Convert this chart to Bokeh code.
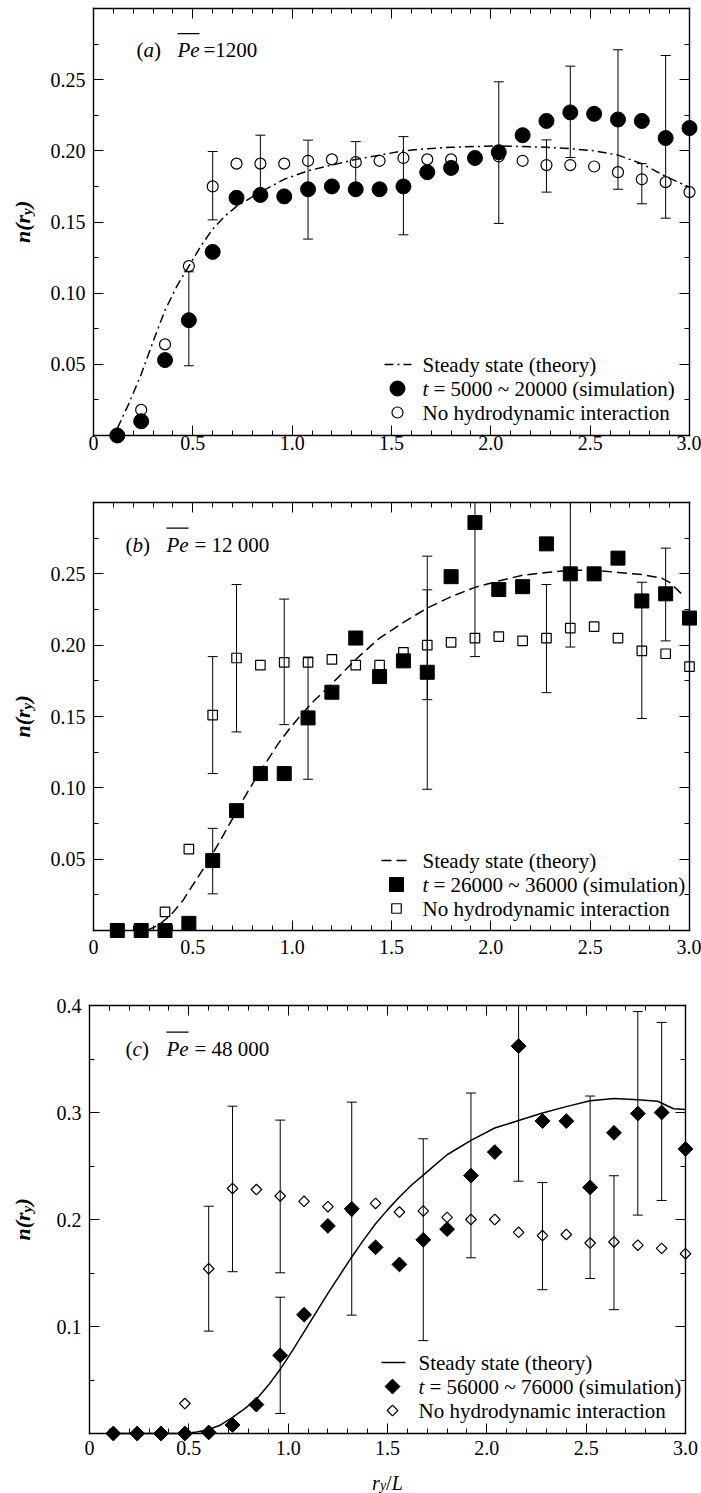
import math
from bokeh.plotting import figure
from bokeh.models import Range1d, LinearAxis, FixedTicker, PrintfTickFormatter, Label, BoxAnnotation
from bokeh.layouts import column
from bokeh.embed import file_html
from bokeh.resources import INLINE

SERIF = "Liberation Serif"

# ---------------- data ----------------
r_y = [0.12, 0.24, 0.36, 0.48, 0.60, 0.72, 0.84, 0.96, 1.08, 1.20, 1.32, 1.44, 1.56,
       1.68, 1.80, 1.92, 2.04, 2.16, 2.28, 2.40, 2.52, 2.64, 2.76, 2.88, 3.00]

# panel (a)  Pe = 1200
a_sim = [0.000, 0.010, 0.053, 0.081, 0.129, 0.167, 0.169, 0.168, 0.173, 0.175, 0.173, 0.173, 0.175,
         0.185, 0.188, 0.195, 0.199, 0.211, 0.221, 0.227, 0.226, 0.222, 0.221, 0.209, 0.216]
a_nohi = [0.000, 0.018, 0.064, 0.119, 0.175, 0.191, 0.191, 0.191, 0.193, 0.194, 0.192, 0.193, 0.195,
          0.194, 0.194, 0.195, 0.196, 0.193, 0.190, 0.190, 0.189, 0.185, 0.180, 0.178, 0.171]
a_theory_x = [0.12, 0.18, 0.24, 0.30, 0.36, 0.42, 0.48, 0.54, 0.60, 0.66, 0.72, 0.84, 0.96, 1.08, 1.20,
              1.32, 1.44, 1.56, 1.68, 1.80, 1.92, 2.04, 2.16, 2.28, 2.40, 2.52, 2.64, 2.76, 2.88, 3.00]
a_theory_y = [0.005, 0.023, 0.043, 0.066, 0.088, 0.105, 0.119, 0.133, 0.145, 0.154, 0.161, 0.171, 0.180,
              0.186, 0.190, 0.194, 0.197, 0.200, 0.2015, 0.2025, 0.203, 0.2035, 0.203, 0.2025, 0.2015,
              0.200, 0.197, 0.191, 0.182, 0.1745]
a_err_x = [0.48, 0.60, 0.84, 1.08, 1.32, 1.56, 2.04, 2.28, 2.40, 2.64, 2.76, 2.88]
a_err_hi = [0.115, 0.1995, 0.211, 0.2075, 0.2065, 0.210, 0.2485, 0.2077, 0.2595, 0.271, 0.191, 0.267]
a_err_lo = [0.049, 0.1515, 0.171, 0.138, 0.1767, 0.141, 0.149, 0.171, 0.1953, 0.173, 0.1628, 0.1527]

# panel (b)  Pe = 12 000
b_sim = [0.000, 0.000, 0.000, 0.005, 0.049, 0.084, 0.110, 0.110, 0.149, 0.167, 0.205, 0.178, 0.189,
         0.181, 0.248, 0.286, 0.239, 0.241, 0.271, 0.250, 0.250, 0.261, 0.231, 0.236, 0.219]
b_nohi = [0.000, 0.000, 0.013, 0.057, 0.151, 0.191, 0.186, 0.188, 0.188, 0.190, 0.186, 0.186, 0.195,
          0.200, 0.202, 0.205, 0.206, 0.203, 0.205, 0.212, 0.213, 0.205, 0.196, 0.194, 0.185]
b_theory_x = [0.27, 0.33, 0.39, 0.45, 0.51, 0.57, 0.63, 0.69, 0.75, 0.81, 0.87, 0.93, 0.99, 1.05, 1.11,
              1.20, 1.32, 1.44, 1.56, 1.68, 1.80, 1.92, 2.04, 2.16, 2.28, 2.40, 2.52, 2.64, 2.76,
              2.86, 2.90, 2.96]
b_theory_y = [0.000, 0.004, 0.011, 0.021, 0.034, 0.047, 0.061, 0.076, 0.091, 0.105, 0.118, 0.131, 0.142,
              0.152, 0.161, 0.173, 0.190, 0.205, 0.216, 0.226, 0.234, 0.2405, 0.245, 0.249, 0.251,
              0.2525, 0.2525, 0.251, 0.2495, 0.247, 0.244, 0.236]
b_err_x = [0.60, 0.60, 0.72, 0.96, 1.08, 1.68, 1.68, 1.92, 2.28, 2.40, 2.76, 2.88]
b_err_hi = [0.0716, 0.192, 0.2425, 0.2323, 0.1917, 0.2624, 0.2388, 0.381, 0.2425, 0.320, 0.2441, 0.268]
b_err_lo = [0.0257, 0.110, 0.1392, 0.1443, 0.106, 0.099, 0.1618, 0.192, 0.1667, 0.1987, 0.1486, 0.203]

# panel (c)  Pe = 48 000
c_sim = [0.000, 0.000, 0.000, 0.000, 0.001, 0.008, 0.027, 0.073, 0.111, 0.194, 0.210, 0.174, 0.158,
         0.181, 0.191, 0.241, 0.263, 0.362, 0.292, 0.292, 0.230, 0.281, 0.299, 0.300, 0.266]
c_nohi = [0.000, 0.000, 0.000, 0.028, 0.154, 0.229, 0.228, 0.222, 0.217, 0.212, 0.208, 0.215, 0.207,
          0.208, 0.202, 0.200, 0.200, 0.188, 0.185, 0.186, 0.178, 0.179, 0.176, 0.173, 0.168]
c_theory_x = [0.12, 0.48, 0.54, 0.60, 0.66, 0.72, 0.78, 0.84, 0.90, 0.96, 1.02, 1.08, 1.14, 1.20, 1.26,
              1.32, 1.38, 1.44, 1.50, 1.56, 1.62, 1.68, 1.74, 1.80, 1.92, 2.04, 2.16, 2.28, 2.40,
              2.52, 2.64, 2.76, 2.86, 2.90, 2.94, 3.00]
c_theory_y = [0.000, 0.000, 0.0015, 0.0038, 0.008, 0.015, 0.023, 0.032, 0.045, 0.060, 0.077, 0.095,
              0.113, 0.131, 0.148, 0.165, 0.181, 0.196, 0.209, 0.221, 0.232, 0.2415, 0.251, 0.2605,
              0.274, 0.2855, 0.2925, 0.2995, 0.3055, 0.311, 0.313, 0.312, 0.3105, 0.307, 0.3035, 0.3027]
c_err_x = [0.60, 0.72, 0.96, 0.96, 1.32, 1.68, 1.92, 2.16, 2.28, 2.52, 2.64, 2.76, 2.88]
c_err_hi = [0.2124, 0.3059, 0.1274, 0.2929, 0.3097, 0.2754, 0.3182, 0.490, 0.2345, 0.3154, 0.2409, 0.3943, 0.3842]
c_err_lo = [0.0957, 0.1512, 0.0187, 0.1502, 0.1106, 0.0868, 0.1642, 0.2358, 0.1344, 0.1449, 0.1157, 0.2041, 0.2178]

# ticks
x_ticks = [0.0, 0.5, 1.0, 1.5, 2.0, 2.5, 3.0]
x_tick_labels = ["0", "0.5", "1.0", "1.5", "2.0", "2.5", "3.0"]
x_minor = [0.1, 0.2, 0.3, 0.4, 0.6, 0.7, 0.8, 0.9, 1.1, 1.2, 1.3, 1.4, 1.6, 1.7, 1.8, 1.9,
           2.1, 2.2, 2.3, 2.4, 2.6, 2.7, 2.8, 2.9]
ab_y_ticks = [0.05, 0.10, 0.15, 0.20, 0.25]
ab_y_tick_labels = ["0.05", "0.10", "0.15", "0.20", "0.25"]
ab_y_minor = [0.025, 0.075, 0.125, 0.175, 0.225, 0.275]
c_y_ticks = [0.1, 0.2, 0.3, 0.4]
c_y_tick_labels = ["0.1", "0.2", "0.3", "0.4"]
c_y_minor = [0.05, 0.15, 0.25, 0.35]

# ---------------- layout constants (page pixels) ----------------
PAGE_W = 701
AXW = 596      # width of the axis box (0 .. 3.0)
XMAX = 3.0


def make_panel(cfg):
    left, ft, at, ab, fb, ymax = (cfg["left"], cfg["fig_top"], cfg["axis_top"],
                                  cfg["axis_bottom"], cfg["fig_bottom"], cfg["ymax"])
    H = ab - at
    fig_h = fb - ft
    # the frame covers the whole figure; axes are placed at fixed data locations
    p = figure(frame_width=PAGE_W, frame_height=fig_h,
               x_range=Range1d(-left / AXW * XMAX, (PAGE_W - left) / AXW * XMAX),
               y_range=Range1d((ab - fb) / H * ymax, (ab - ft) / H * ymax),
               min_border_left=0, min_border_right=0, min_border_top=0, min_border_bottom=0,
               x_axis_location=None, y_axis_location=None,
               toolbar_location=None, output_backend="svg",
               outline_line_color=None, background_fill_color="white",
               border_fill_color="white")
    p.grid.visible = False

    def dx(px):
        return (px - left) / AXW * XMAX

    def dy(py):
        return (ab - py) / H * ymax

    def lab(px, py, text, size=20, style="normal", align="left", baseline="alphabetic", angle=0.0):
        p.add_layout(Label(x=px, y=fb - py, x_units="screen", y_units="screen",
                           text=text, text_font=SERIF, text_font_size=f"{size}px",
                           text_font_style=style, text_align=align, text_baseline=baseline,
                           angle=angle, text_color="black"))

    common = dict(axis_line_width=1.4, axis_line_color="black", axis_line_cap="square",
                  major_tick_line_color="black", minor_tick_line_color="black",
                  major_tick_line_width=1, minor_tick_line_width=1,
                  major_label_text_font=SERIF, major_label_text_font_size="20px",
                  major_label_text_color="black",
                  major_tick_in=10, major_tick_out=0, minor_tick_in=5, minor_tick_out=0)
    xt = FixedTicker(ticks=x_ticks, minor_ticks=x_minor)
    yt = FixedTicker(ticks=cfg["yticks"], minor_ticks=cfg["yminor"])

    bottom = LinearAxis(ticker=xt, formatter=PrintfTickFormatter(format="%.1f"),
                        major_label_overrides=dict(zip(x_ticks, x_tick_labels)),
                        fixed_location=0, bounds=(0, XMAX),
                        major_label_standoff=cfg["xstand"], **common)
    p.add_layout(bottom, "below")
    top = LinearAxis(ticker=xt, major_label_overrides={t: "" for t in x_ticks},
                     fixed_location=ymax, bounds=(0, XMAX), major_label_standoff=0, **common)
    p.add_layout(top, "above")
    lefta = LinearAxis(ticker=yt, formatter=PrintfTickFormatter(format=cfg["yfmt"]),
                       major_label_overrides=dict(zip(cfg["yticks"], cfg["ylabels"])),
                       fixed_location=0, bounds=(0, ymax),
                       major_label_standoff=8, **common)
    p.add_layout(lefta, "left")
    right = LinearAxis(ticker=yt, major_label_overrides={t: "" for t in cfg["yticks"]},
                       fixed_location=XMAX, bounds=(0, ymax), major_label_standoff=0, **common)
    p.add_layout(right, "right")

    # theory curve
    p.line(cfg["tx"], cfg["ty"], line_color="black", line_width=1.5, line_dash=cfg["dash"])

    # error bars (cut at the top of the axis box, as in the original)
    ex, lo, hi = cfg["ex"], cfg["elo"], cfg["ehi"]
    hi_draw = [min(h, ymax) for h in hi]
    p.segment(x0=ex, y0=lo, x1=ex, y1=hi_draw, line_color="black", line_width=1)
    cap_x = [x for x, h in zip(ex, hi) if h <= ymax]
    cap_y = [h for h in hi if h <= ymax]
    p.scatter(cap_x, cap_y, marker="dash", size=10, line_color="black", line_width=1)
    p.scatter(ex, lo, marker="dash", size=10, line_color="black", line_width=1)

    # markers
    mk = cfg["marker"]
    p.scatter(r_y, cfg["nohi"], marker=mk, size=cfg["open_size"], angle=cfg["angle"],
              fill_color=None, line_color="black", line_width=1.2)
    p.scatter(r_y, cfg["sim"], marker=mk, size=cfg["fill_size"], angle=cfg["angle"],
              fill_color="black", line_color="black")

    # legend (samples + text)
    lg = cfg["legend"]
    rows = lg["rows"]
    p.line([dx(lg["line"][0]), dx(lg["line"][1])], [dy(rows[0]), dy(rows[0])],
           line_color="black", line_width=1.5, line_dash=cfg["dash"])
    p.scatter([dx(lg["mx"])], [dy(rows[1])], marker=mk, size=cfg["fill_size"], angle=cfg["angle"],
              fill_color="black", line_color="black")
    p.scatter([dx(lg["mx"])], [dy(rows[2])], marker=mk, size=cfg["open_size"], angle=cfg["angle"],
              fill_color=None, line_color="black", line_width=1.2)
    tx0 = lg["tx"]
    lab(tx0, rows[0], "Steady state (theory)", size=21, baseline="middle")
    lab(tx0, rows[1], "t", size=21, style="italic", baseline="middle")
    lab(tx0 + 11, rows[1], cfg["sim_label"], size=21, baseline="middle")
    lab(tx0, rows[2], "No hydrodynamic interaction", size=21, baseline="middle")

    # panel tag  (x)  Pe = ...
    tg = cfg["tag"]
    for text, px, style in tg["pieces"]:
        lab(px, tg["base"], text, size=21, style=style)
    ox0, ox1, oy = tg["over"]
    p.add_layout(BoxAnnotation(left=ox0, right=ox1,
                               top=fb - oy, bottom=fb - oy - 1.3,
                               left_units="screen", right_units="screen",
                               top_units="screen", bottom_units="screen",
                               fill_color="black", fill_alpha=1.0, line_color=None))

    # y axis title n(r_y), rotated
    mid = (at + ab) / 2
    ys = mid + 21
    lab(22, ys, "n(r", size=22, style="bold italic", angle=math.pi / 2)
    lab(26, ys - 28, "y", size=15, style="bold italic", angle=math.pi / 2)
    lab(22, ys - 35, ")", size=22, style="bold italic", angle=math.pi / 2)

    if cfg.get("xtitle"):
        cx = left + AXW / 2 - 15.4
        lab(cx, 1482, "r", style="italic")
        lab(cx + 7.8, 1485, "y", size=14, style="italic")
        lab(cx + 14.0, 1482, "/")
        lab(cx + 19.6, 1482, "L", style="italic")
    return p


pa = make_panel(dict(
    left=93, fig_top=0, axis_top=8, axis_bottom=435, fig_bottom=475, ymax=0.30,
    yticks=ab_y_ticks, ylabels=ab_y_tick_labels, yminor=ab_y_minor, yfmt="%.2f", xstand=0,
    tx=a_theory_x, ty=a_theory_y, ex=a_err_x, elo=a_err_lo, ehi=a_err_hi,
    sim=a_sim, nohi=a_nohi, marker="circle", fill_size=15, open_size=11, angle=0.0,
    dash="9 4 2 4", sim_label="= 5000 ~ 20000 (simulation)",
    legend=dict(line=(384, 411), mx=397, rows=[364, 388, 412], tx=422),
    tag=dict(base=49, pieces=[("(", 136, "normal"), ("a", 143, "italic"), (")", 153.5, "normal"),
                              ("Pe", 177, "italic"), ("=1200", 203, "normal")],
             over=(177, 199, 32.5)),
))

pb = make_panel(dict(
    left=93, fig_top=475, axis_top=502, axis_bottom=930, fig_bottom=970, ymax=0.30,
    yticks=ab_y_ticks, ylabels=ab_y_tick_labels, yminor=ab_y_minor, yfmt="%.2f", xstand=9,
    tx=b_theory_x, ty=b_theory_y, ex=b_err_x, elo=b_err_lo, ehi=b_err_hi,
    sim=b_sim, nohi=b_nohi, marker="square", fill_size=14, open_size=9.5, angle=0.0,
    dash="10 5", sim_label="= 26000 ~ 36000 (simulation)",
    legend=dict(line=(381, 410), mx=396, rows=[860, 884, 908], tx=422),
    tag=dict(base=544, pieces=[("(", 125, "normal"), ("b", 132, "italic"), (")", 142.5, "normal"),
                               ("Pe", 166, "italic"), ("= 12 000", 194, "normal")],
             over=(166, 188, 527)),
))

pc = make_panel(dict(
    left=89, fig_top=970, axis_top=1005, axis_bottom=1433, fig_bottom=1493, ymax=0.40,
    yticks=c_y_ticks, ylabels=c_y_tick_labels, yminor=c_y_minor, yfmt="%.1f", xstand=7,
    tx=c_theory_x, ty=c_theory_y, ex=c_err_x, elo=c_err_lo, ehi=c_err_hi,
    sim=c_sim, nohi=c_nohi, marker="square", fill_size=10.5, open_size=7.5, angle=math.pi / 4,
    dash="solid", sim_label="= 56000 ~ 76000 (simulation)",
    legend=dict(line=(381, 405), mx=392, rows=[1362, 1386, 1410], tx=418),
    tag=dict(base=1048, pieces=[("(", 125, "normal"), ("c", 132, "italic"), (")", 141.5, "normal"),
                                ("Pe", 166, "italic"), ("= 48 000", 194, "normal")],
             over=(166, 188, 1031)),
    xtitle=True,
))

layout = column(pa, pb, pc, spacing=0)
open("out.html", "w").write(file_html(layout, INLINE))
